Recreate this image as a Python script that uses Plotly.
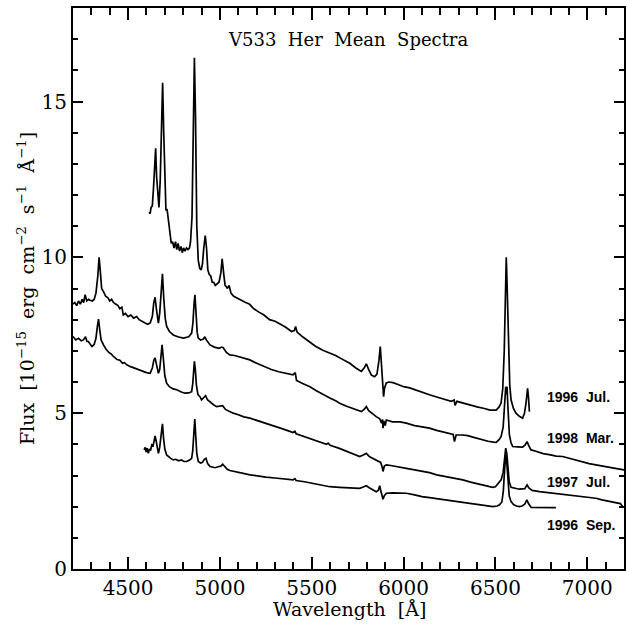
import plotly.graph_objects as go

# Mean spectra of V533 Her, four epochs (wavelength in Angstrom, flux in 1e-15 erg/cm2/s/A)
wl_jul96 = [4615, 4620, 4625, 4632, 4638, 4645, 4650, 4655, 4662, 4668, 4675, 4682, 4688, 4694,
            4700, 4706, 4712, 4720, 4728, 4735, 4742, 4750, 4758, 4765, 4772, 4780, 4788, 4795,
            4802, 4810, 4818, 4826, 4834, 4840, 4848, 4855, 4861, 4867, 4874, 4882, 4890, 4898,
            4905, 4912, 4920, 4927, 4934, 4942, 4950, 4958, 4966, 4975, 4985, 4995, 5005, 5012,
            5020, 5028, 5036, 5040, 5050, 5060, 5075, 5090, 5105, 5120, 5140, 5160, 5185, 5210,
            5240, 5270, 5300, 5330, 5360, 5390, 5405, 5412, 5420, 5450, 5490, 5520, 5560, 5598,
            5630, 5660, 5707, 5740, 5770, 5785, 5797, 5810, 5825, 5842, 5855, 5866, 5873, 5879,
            5886, 5891, 5896, 5906, 5920, 5942, 5970, 6000, 6033, 6060, 6090, 6120, 6141, 6180,
            6220, 6260, 6275, 6280, 6290, 6321, 6360, 6400, 6440, 6470, 6504, 6520, 6531, 6540,
            6548, 6554, 6559, 6564, 6570, 6578, 6585, 6598, 6612, 6630, 6648, 6658, 6666, 6675,
            6680, 6685]
flux_jul96 = [11.45, 11.40, 11.60, 11.65, 12.2, 13.0, 13.5, 12.6, 11.9, 11.6, 12.5, 14.5, 15.6, 14.0,
              12.2, 11.5, 11.55, 11.1, 10.8, 10.45, 10.5, 10.3, 10.5, 10.25, 10.45, 10.2, 10.35, 10.15,
              10.3, 10.2, 10.3, 10.25, 10.3, 10.5, 11.3, 13.5, 16.4, 14.5, 11.0, 9.9, 9.65, 9.6,
              9.8, 10.3, 10.7, 10.3, 9.6, 9.45, 9.4, 9.2, 9.2, 9.1, 9.15, 9.2, 9.5, 9.95,
              9.5, 9.1, 9.05, 9.0, 9.1, 8.85, 8.75, 8.7, 8.65, 8.6, 8.55, 8.5, 8.35, 8.25,
              8.15, 8.0, 7.95, 7.85, 7.75, 7.62, 7.65, 7.78, 7.6, 7.45, 7.28, 7.15, 7.02, 6.93,
              6.85, 6.75, 6.6, 6.45, 6.34, 6.45, 6.58, 6.4, 6.22, 6.17, 6.25, 6.7, 7.14, 6.6,
              5.9, 5.53, 5.8, 5.97, 6.0, 5.98, 5.92, 5.85, 5.81, 5.75, 5.68, 5.62, 5.59, 5.52,
              5.45, 5.38, 5.42, 5.25, 5.38, 5.33, 5.25, 5.2, 5.15, 5.1, 5.1, 5.2, 5.33, 5.8,
              7.0, 8.8, 10.0, 9.0, 7.2, 5.9, 5.43, 5.15, 5.0, 4.9, 4.84, 5.0, 5.3, 5.8,
              5.5, 5.05]

wl_mar98 = [4200, 4210, 4220, 4230, 4240, 4250, 4258, 4266, 4275, 4285, 4293, 4305, 4315, 4325,
            4335, 4342, 4348, 4356, 4366, 4378, 4390, 4400, 4410, 4420, 4432, 4445, 4455, 4466,
            4474, 4485, 4500, 4515, 4530, 4547, 4560, 4575, 4590, 4605, 4620, 4632, 4640, 4647,
            4655, 4665, 4672, 4680, 4687, 4694, 4702, 4710, 4725, 4746, 4770, 4801, 4830, 4846,
            4853, 4859, 4864, 4870, 4876, 4882, 4895, 4910, 4918, 4926, 4946, 4970, 4995, 5010,
            5018, 5035, 5054, 5080, 5110, 5140, 5163, 5200, 5240, 5280, 5320, 5360, 5398, 5410,
            5417, 5450, 5490, 5525, 5560, 5598, 5630, 5652, 5690, 5730, 5770, 5785, 5797, 5810,
            5830, 5851, 5870, 5880, 5885, 5888, 5893, 5900, 5906, 5940, 5980, 6015, 6060, 6100,
            6141, 6180, 6220, 6250, 6270, 6277, 6286, 6320, 6350, 6377, 6420, 6460, 6490, 6504,
            6520, 6531, 6542, 6550, 6556, 6560, 6563, 6568, 6576, 6585, 6594, 6620, 6648, 6662,
            6672, 6682, 6694, 6720, 6760, 6800, 6830, 6866, 6900, 6940, 6980, 7010, 7047, 7080,
            7120, 7160, 7200]
flux_mar98 = [8.5, 8.55, 8.45, 8.6, 8.5, 8.65, 8.55, 8.8, 8.6, 8.65, 8.62, 8.6, 8.65, 8.85,
              9.4, 10.0, 9.6, 9.0, 8.9, 8.75, 8.7, 8.6, 8.65, 8.55, 8.5, 8.45, 8.35, 8.4,
              8.15, 8.2, 8.1, 8.15, 8.05, 8.1, 8.0, 7.95, 7.9, 7.85, 7.89, 8.1, 8.55, 8.72,
              8.3, 7.89, 8.2, 8.9, 9.47, 8.7, 8.05, 7.78, 7.62, 7.51, 7.45, 7.41, 7.45, 7.57,
              7.9, 8.5, 8.8, 8.2, 7.6, 7.41, 7.35, 7.38, 7.45, 7.35, 7.19, 7.12, 7.08, 7.12,
              7.1, 6.95, 6.87, 6.85, 6.8, 6.75, 6.71, 6.6, 6.5, 6.4, 6.33, 6.28, 6.23, 6.3,
              6.05, 5.95, 5.85, 5.72, 5.6, 5.49, 5.4, 5.32, 5.22, 5.13, 5.05, 5.12, 5.21, 5.08,
              4.98, 4.89, 4.82, 4.68, 4.8, 4.52, 4.75, 4.6, 4.78, 4.72, 4.72, 4.68, 4.6, 4.57,
              4.52, 4.45, 4.4, 4.36, 4.32, 4.09, 4.3, 4.3, 4.28, 4.23, 4.15, 4.1, 4.07, 4.06,
              4.15, 4.25, 4.55, 5.2, 5.85, 5.6, 5.85, 5.2, 4.3, 4.05, 3.93, 3.92, 3.91, 3.98,
              4.09, 3.95, 3.82, 3.78, 3.7, 3.66, 3.62, 3.61, 3.55, 3.48, 3.42, 3.38, 3.34, 3.3,
              3.26, 3.22, 3.18]

wl_jul97 = [4200, 4215, 4230, 4245, 4257, 4268, 4276, 4284, 4295, 4303, 4315, 4325, 4332, 4339,
            4345, 4353, 4366, 4380, 4395, 4408, 4420, 4440, 4455, 4470, 4480, 4493, 4510, 4530,
            4550, 4565, 4583, 4600, 4620, 4632, 4640, 4647, 4655, 4665, 4672, 4678, 4685, 4692,
            4700, 4710, 4725, 4745, 4765, 4790, 4810, 4830, 4846, 4852, 4857, 4861, 4866, 4872,
            4880, 4891, 4900, 4910, 4922, 4932, 4950, 4965, 4982, 5000, 5015, 5030, 5050, 5072,
            5100, 5130, 5163, 5200, 5254, 5300, 5350, 5398, 5408, 5415, 5460, 5500, 5543, 5580,
            5589, 5600, 5650, 5700, 5730, 5761, 5780, 5797, 5815, 5840, 5860, 5875, 5882, 5888,
            5895, 5906, 5930, 5960, 6015, 6060, 6100, 6141, 6180, 6220, 6270, 6322, 6370, 6420,
            6460, 6485, 6500, 6504, 6520, 6531, 6542, 6550, 6556, 6562, 6568, 6575, 6585, 6600,
            6630, 6660, 6672, 6682, 6700, 6740, 6780, 6820, 6866, 6900, 6940, 6980, 7020, 7047,
            7080, 7120, 7160, 7180, 7195]
flux_jul97 = [7.46, 7.35, 7.4, 7.32, 7.35, 7.45, 7.3, 7.3, 7.2, 7.14, 7.2, 7.4, 7.75, 8.02,
              7.7, 7.35, 7.19, 7.05, 6.95, 6.9, 6.82, 6.72, 6.7, 6.6, 6.62, 6.55, 6.5, 6.45,
              6.4, 6.38, 6.34, 6.3, 6.28, 6.45, 6.7, 6.77, 6.55, 6.28, 6.4, 6.85, 7.19, 6.75,
              6.2, 5.96, 5.85, 5.78, 5.75, 5.68, 5.64, 5.65, 5.69, 5.95, 6.4, 6.66, 6.4, 5.9,
              5.6, 5.53, 5.43, 5.5, 5.56, 5.43, 5.33, 5.27, 5.21, 5.22, 5.24, 5.12, 5.05, 5.0,
              4.95, 4.88, 4.84, 4.77, 4.68, 4.58, 4.48, 4.38, 4.42, 4.34, 4.25, 4.16, 4.06, 4.0,
              4.04, 3.97, 3.87, 3.76, 3.68, 3.61, 3.66, 3.71, 3.6, 3.52, 3.45, 3.42, 3.3, 3.13,
              3.3, 3.34, 3.32, 3.28, 3.23, 3.18, 3.14, 3.09, 3.02, 2.98, 2.92, 2.86, 2.78, 2.72,
              2.66, 2.62, 2.64, 2.67, 2.75, 2.86, 3.1, 3.5, 3.88, 3.7, 3.2, 2.8, 2.62, 2.6,
              2.56, 2.58, 2.7, 2.6, 2.52, 2.48, 2.45, 2.42, 2.4, 2.36, 2.33, 2.3, 2.28, 2.27,
              2.22, 2.18, 2.12, 2.1, 1.98]

wl_sep96 = [4587, 4593, 4598, 4604, 4610, 4616, 4622, 4629, 4636, 4642, 4647, 4653, 4660, 4665,
            4672, 4680, 4687, 4693, 4700, 4710, 4720, 4732, 4746, 4760, 4775, 4790, 4805, 4819,
            4835, 4846, 4852, 4858, 4863, 4868, 4874, 4882, 4895, 4905, 4915, 4924, 4933, 4946,
            4960, 4975, 4990, 5005, 5015, 5025, 5040, 5054, 5080, 5110, 5140, 5163, 5200, 5250,
            5300, 5350, 5398, 5408, 5415, 5460, 5500, 5550, 5598, 5650, 5700, 5740, 5761, 5780,
            5797, 5815, 5835, 5851, 5862, 5870, 5876, 5882, 5888, 5895, 5906, 5940, 5980, 6015,
            6060, 6100, 6141, 6180, 6230, 6280, 6322, 6370, 6420, 6460, 6485, 6510, 6522, 6535,
            6543, 6550, 6556, 6562, 6568, 6575, 6585, 6600, 6615, 6630, 6645, 6660, 6671, 6680,
            6694, 6720, 6750, 6780, 6800, 6829]
flux_sep96 = [3.82, 3.9, 3.75, 3.88, 3.71, 3.85, 3.8, 3.98, 3.95, 4.15, 4.27, 4.1, 3.85, 3.71,
              3.9, 4.3, 4.66, 4.2, 3.85, 3.66, 3.6, 3.55, 3.5, 3.52, 3.47, 3.5, 3.45, 3.45,
              3.5, 3.55, 3.8, 4.4, 4.81, 4.3, 3.7, 3.45, 3.4, 3.42, 3.52, 3.55, 3.38, 3.29,
              3.27, 3.25, 3.28, 3.3, 3.36, 3.28, 3.2, 3.16, 3.12, 3.08, 3.05, 3.02, 3.0, 2.95,
              2.92, 2.89, 2.86, 2.9, 2.84, 2.8, 2.75, 2.7, 2.64, 2.62, 2.61, 2.6, 2.59, 2.63,
              2.67, 2.6, 2.52, 2.48, 2.52, 2.67, 2.5, 2.35, 2.24, 2.35, 2.43, 2.44, 2.43, 2.43,
              2.38, 2.32, 2.29, 2.26, 2.22, 2.18, 2.16, 2.1, 2.06, 2.02, 2.0, 2.02, 2.06, 2.15,
              2.5, 3.2, 3.65, 3.4, 2.8, 2.35, 2.16, 2.06, 2.02, 2.0, 2.02, 2.08, 2.22, 2.1,
              1.98, 1.98, 1.96, 1.98, 1.96, 1.97]

epoch_names = ["1996 Jul.", "1998 Mar.", "1997 Jul.", "1996 Sep."]
label_wl = 6772
label_flux = [5.52, 4.21, 2.79, 1.41]

x_ticks = [4500, 5000, 5500, 6000, 6500, 7000]
y_ticks = [0, 5, 10, 15]

serif = "DejaVu Serif"
nb2 = "\u00a0\u00a0"

fig = go.Figure()
for wl, fl, name in zip([wl_jul96, wl_mar98, wl_jul97, wl_sep96],
                        [flux_jul96, flux_mar98, flux_jul97, flux_sep96],
                        epoch_names):
    fig.add_trace(go.Scatter(x=wl, y=fl, mode="lines", name=name,
                             line=dict(color="black", width=1.7), showlegend=False))

# epoch labels at the right-hand side
for name, fy in zip(epoch_names, label_flux):
    fig.add_annotation(x=label_wl, y=fy, xref="x", yref="y",
                       text="<b>%s</b>" % name.replace(" ", nb2),
                       showarrow=False, xanchor="left", yanchor="middle",
                       font=dict(family="Liberation Sans", size=14, color="black"))

fig.add_annotation(x=0.499, y=0.944, xref="paper", yref="paper",
                   text=nb2.join(["V533", "Her", "Mean", "Spectra"]), showarrow=False,
                   xanchor="center", yanchor="middle",
                   font=dict(family=serif, size=18, color="black"))

# x-axis title, placed just under the tick labels
fig.add_annotation(x=0.502, y=-0.071, xref="paper", yref="paper",
                   text="Wavelength" + nb2 + "[Å]", showarrow=False,
                   xanchor="center", yanchor="middle",
                   font=dict(family=serif, size=19, color="black"))

axis_common = dict(showline=True, linecolor="black", linewidth=2, mirror="allticks",
                   ticks="inside", tickcolor="black", tickwidth=1.5,
                   showgrid=False, zeroline=False,
                   tickfont=dict(family=serif, size=20, color="black"))

fig.update_xaxes(range=[4200, 7200], tickvals=x_ticks, ticklen=12,
                 minor=dict(ticks="inside", dtick=100, tick0=4200, ticklen=7,
                            tickcolor="black", tickwidth=1.5, showgrid=False),
                 **axis_common)
fig.update_yaxes(range=[0, 18], tickvals=y_ticks, ticklen=10,
                 minor=dict(ticks="inside", dtick=1, tick0=0, ticklen=5,
                            tickcolor="black", tickwidth=1.5, showgrid=False),
                 title=dict(text="Flux" + nb2 + "[10<sup>−15</sup>" + nb2 + "erg" + nb2 + "cm<sup>−2</sup>"
                                 + nb2 + "s<sup>−1</sup>" + nb2 + "Å<sup>−1</sup>]",
                            font=dict(family=serif, size=19, color="black"), standoff=2),
                 **axis_common)

fig.update_layout(width=627, height=625, margin=dict(l=73, r=3, t=8, b=56, autoexpand=False),
                  plot_bgcolor="white", paper_bgcolor="white")

fig.write_html("out.html")
